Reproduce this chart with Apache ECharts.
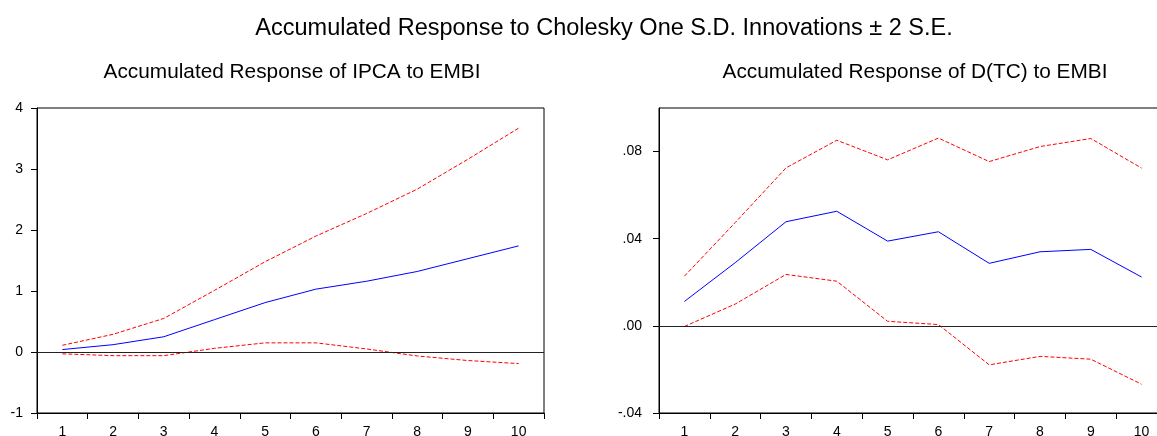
<!DOCTYPE html>
<html>
<head>
<meta charset="utf-8">
<script src="https://cdn.jsdelivr.net/npm/echarts@6/dist/echarts.min.js"></script>
<style>html,body{margin:0;padding:0;background:#fff;}#c{width:1157px;height:436px;}</style>
</head>
<body>
<div id="c"></div>
<script>
var categories = ['1','2','3','4','5','6','7','8','9','10'];
var ipcaResp  = [0.04, 0.12, 0.25, 0.53, 0.81, 1.03, 1.16, 1.32, 1.53, 1.74];
var ipcaUpper = [0.11, 0.29, 0.55, 1.01, 1.48, 1.90, 2.27, 2.67, 3.16, 3.67];
var ipcaLower = [-0.03, -0.06, -0.06, 0.06, 0.15, 0.15, 0.05, -0.065, -0.14, -0.19];
var tcResp  = [0.0112, 0.0290, 0.0478, 0.0526, 0.0389, 0.0432, 0.0287, 0.0340, 0.0351, 0.0224];
var tcUpper = [0.0228, 0.0474, 0.0725, 0.0852, 0.0762, 0.0862, 0.0754, 0.0823, 0.0860, 0.0724];
var tcLower = [-0.0003, 0.0100, 0.0236, 0.0205, 0.0021, 0.0006, -0.0179, -0.0140, -0.0153, -0.0268];

var FONT = 'Liberation Sans, Arial, sans-serif';
var chart = echarts.init(document.getElementById('c'), null, {renderer: 'canvas'});

function xAx(gi) {
  return {
    type: 'category', gridIndex: gi, data: categories, boundaryGap: true,
    axisLine: {show: true, onZero: false, lineStyle: {color: '#000', width: 1}},
    axisTick: {show: true, inside: false, length: 6, alignWithLabel: false, lineStyle: {color: '#000'}},
    axisLabel: {color: '#000', fontFamily: FONT, fontSize: 14, margin: 12},
    splitLine: {show: false}
  };
}
function yAx(gi, min, max, interval, fmt) {
  return {
    type: 'value', gridIndex: gi, min: min, max: max, interval: interval,
    axisLine: {show: true, onZero: false, lineStyle: {color: '#000', width: 1}},
    axisTick: {show: true, inside: false, length: 6, lineStyle: {color: '#000'}},
    axisLabel: {color: '#000', fontFamily: FONT, fontSize: 14, margin: gi === 0 ? 14 : 17, showMaxLabel: gi === 0, formatter: fmt},
    splitLine: {show: false}
  };
}
function line(name, xi, data, color, dashed, zero) {
  var s = {
    name: name, type: 'line', xAxisIndex: xi, yAxisIndex: xi, data: data,
    symbol: 'none', silent: true, animation: false, z: dashed ? 3 : 4,
    lineStyle: {color: color, width: 1, type: dashed ? [4, 2] : 'solid'}
  };
  if (zero) {
    s.markLine = {
      silent: true, symbol: 'none', animation: false, label: {show: false},
      lineStyle: {color: '#222', width: 1, type: 'solid'},
      data: [{yAxis: 0}]
    };
  }
  return s;
}
var tcFmt = function (v) {
  return (v < 0 ? '-' : '') + Math.abs(v).toFixed(2).replace(/^0/, '');
};

chart.setOption({
  backgroundColor: '#fff',
  animation: false,
  title: [
    {text: 'Accumulated Response to Cholesky One S.D. Innovations ± 2 S.E.', left: 599, top: 12, textAlign: 'center',
     textStyle: {fontFamily: FONT, fontSize: 23.5, fontWeight: 'normal', color: '#000'}},
    {text: 'Accumulated Response of IPCA to EMBI', left: 287, top: 57, textAlign: 'center',
     textStyle: {fontFamily: FONT, fontSize: 20.8, fontWeight: 'normal', color: '#000'}},
    {text: 'Accumulated Response of D(TC) to EMBI', left: 910, top: 57, textAlign: 'center',
     textStyle: {fontFamily: FONT, fontSize: 20.8, fontWeight: 'normal', color: '#000'}}
  ],
  grid: [
    {left: 37, top: 108, width: 507, height: 305, show: true, borderColor: '#000', borderWidth: 1, backgroundColor: '#fff', containLabel: false, outerBoundsMode: 'none'},
    {left: 659, top: 108, width: 508, height: 305, show: true, borderColor: '#000', borderWidth: 1, backgroundColor: '#fff', containLabel: false, outerBoundsMode: 'none'}
  ],
  xAxis: [xAx(0), xAx(1)],
  yAxis: [
    yAx(0, -1, 4, 1, function (v) { return String(v); }),
    yAx(1, -0.04, 0.1, 0.04, tcFmt)
  ],
  series: [
    line('IPCA response', 0, ipcaResp, '#0000ff', false, true),
    line('IPCA +2 S.E.', 0, ipcaUpper, '#ff0000', true, false),
    line('IPCA -2 S.E.', 0, ipcaLower, '#ff0000', true, false),
    line('D(TC) response', 1, tcResp, '#0000ff', false, true),
    line('D(TC) +2 S.E.', 1, tcUpper, '#ff0000', true, false),
    line('D(TC) -2 S.E.', 1, tcLower, '#ff0000', true, false)
  ]
});
</script>
</body>
</html>
